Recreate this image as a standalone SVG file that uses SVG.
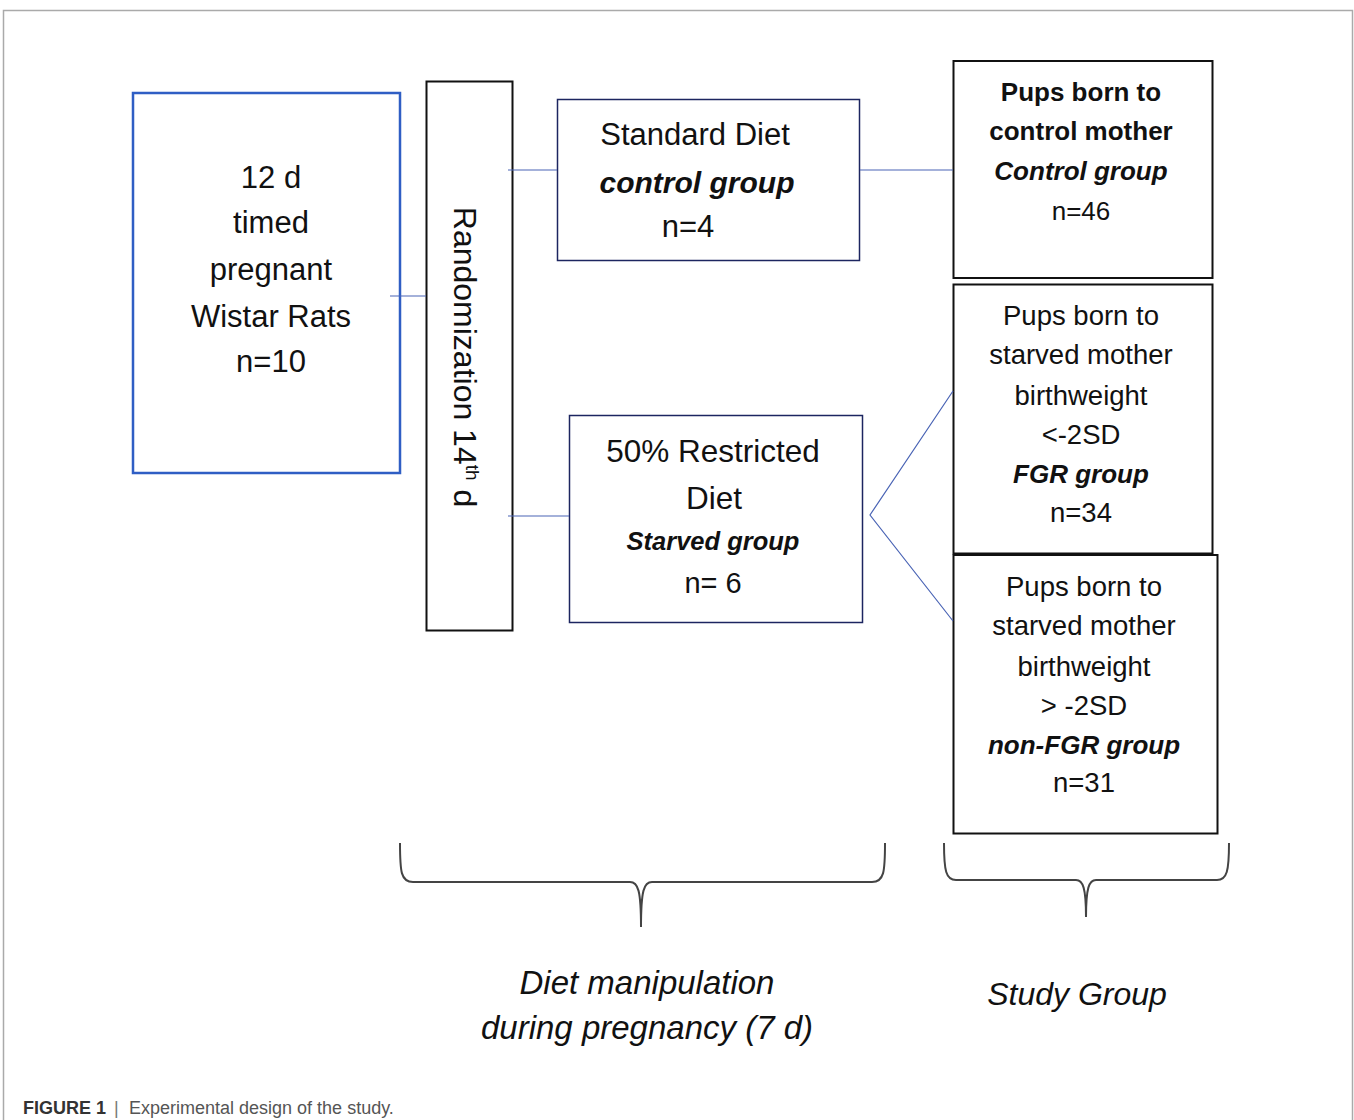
<svg xmlns="http://www.w3.org/2000/svg" width="1354" height="1120" viewBox="0 0 1354 1120">
<style>
.t{font-family:"Liberation Sans",Arial,sans-serif;fill:#111;text-anchor:middle}
.b{font-weight:bold}
.i{font-style:italic}
.conn{stroke:#4a64b5;stroke-width:1.2;fill:none}
.box{fill:#fff;stroke:#111;stroke-width:2}
.mbox{fill:#fff;stroke:#1c2560;stroke-width:1.5}
.brace{fill:none;stroke:#444;stroke-width:2}
.cap{font-family:"Liberation Sans",Arial,sans-serif;font-size:18px}
</style>
<rect width="1354" height="1120" fill="#fff"/>
<path d="M3.5,1120 V10.5 H1352.5 V1120" fill="none" stroke="#aaa" stroke-width="1.5"/>

<g id="node-rats">
<rect x="133" y="93" width="267" height="380" fill="#fff" stroke="#2f5ec4" stroke-width="2.5"/>
<g class="t" font-size="31">
<text x="271" y="188">12 d</text>
<text x="271" y="233">timed</text>
<text x="271" y="280">pregnant</text>
<text x="271" y="327">Wistar Rats</text>
<text x="271" y="372">n=10</text>
</g>
</g>

<g id="node-randomization">
<rect class="box" x="426.5" y="81.5" width="86" height="549" stroke-width="1.6"/>
<text class="t" font-size="32" transform="translate(454,357) rotate(90)">Randomization 14<tspan font-size="19" dy="-12">th</tspan><tspan dy="12"> d</tspan></text>
</g>

<g id="node-standard">
<rect class="mbox" x="557.5" y="99.5" width="302" height="161"/>
<text class="t" font-size="31" x="695" y="145">Standard Diet</text>
<text class="t b i" font-size="30" x="697" y="193">control group</text>
<text class="t" font-size="31" x="688" y="237">n=4</text>
</g>

<g id="node-restricted">
<rect class="mbox" x="569.5" y="415.5" width="293" height="207"/>
<text class="t" font-size="31.5" x="713" y="462">50% Restricted</text>
<text class="t" font-size="31.5" x="714" y="509">Diet</text>
<text class="t b i" font-size="25.5" x="713" y="550">Starved group</text>
<text class="t" font-size="29" x="713" y="593">n= 6</text>
</g>

<g id="node-control-pups">
<rect class="box" x="953.5" y="61" width="259" height="217"/>
<g class="t" font-size="26">
<text class="b" x="1081" y="101">Pups born to</text>
<text class="b" x="1081" y="140">control mother</text>
<text class="b i" x="1081" y="180">Control group</text>
<text x="1081" y="220">n=46</text>
</g>
</g>

<g id="node-fgr">
<rect class="box" x="953.5" y="284.5" width="259" height="269"/>
<g class="t" font-size="27.5">
<text x="1081" y="325">Pups born to</text>
<text x="1081" y="364">starved mother</text>
<text x="1081" y="405">birthweight</text>
<text x="1081" y="444">&lt;-2SD</text>
<text class="b i" font-size="26" x="1081" y="483">FGR group</text>
<text x="1081" y="522">n=34</text>
</g>
</g>

<g id="node-nonfgr">
<rect class="box" x="953.5" y="555" width="264" height="278.5"/>
<g class="t" font-size="27.5">
<text x="1084" y="596">Pups born to</text>
<text x="1084" y="635">starved mother</text>
<text x="1084" y="676">birthweight</text>
<text x="1084" y="715">&gt; -2SD</text>
<text class="b i" font-size="26" x="1084" y="754">non-FGR group</text>
<text x="1084" y="792">n=31</text>
</g>
</g>

<g id="connectors">
<line class="conn" x1="390" y1="296" x2="426" y2="296"/>
<line class="conn" x1="508" y1="170" x2="557" y2="170"/>
<line class="conn" x1="508" y1="516" x2="569" y2="516"/>
<line class="conn" x1="860" y1="170" x2="953" y2="170"/>
<polyline class="conn" points="953,391 870,515 953,621"/>
</g>

<g id="brace-diet">
<path class="brace" d="M400,843 C400,872 401,882 413,882 H630 C638,882 641,890 641,927 C641,890 644,882 652,882 H872 C884,882 885,872 885,843"/>
<text class="t i" font-size="33" x="647" y="994">Diet manipulation</text>
<text class="t i" font-size="33" x="647" y="1039">during pregnancy (7 d)</text>
</g>

<g id="brace-study">
<path class="brace" d="M944,843 C944,871 946,880 956,880 H1076 C1083,880 1086,888 1086,917 C1086,888 1089,880 1096,880 H1217 C1227,880 1229,871 1229,843"/>
<text class="t i" font-size="32" x="1077" y="1005">Study Group</text>
</g>

<g id="caption">
<text class="cap" x="23" y="1114" font-weight="bold" fill="#333">FIGURE 1</text>
<text class="cap" x="114" y="1114" fill="#777">|</text>
<text class="cap" x="129" y="1114" fill="#555">Experimental design of the study.</text>
</g>
</svg>
